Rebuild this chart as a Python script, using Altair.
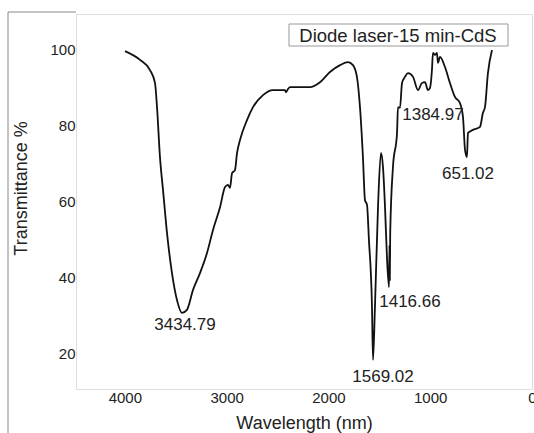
import altair as alt
import pandas as pd

# ---- data ----
wavenumber = [3999, 3851, 3753, 3704, 3684, 3655, 3625, 3586, 3537, 3488, 3439, 3390,
              3331, 3262, 3193, 3134, 3065, 3016, 2987, 2967, 2947, 2918, 2898, 2869,
              2800, 2741, 2643, 2545, 2427, 2417, 2397, 2378, 2181, 2083, 1985, 1886,
              1808, 1759, 1720, 1690, 1661, 1641, 1621, 1602, 1572, 1562, 1543, 1513,
              1484, 1464, 1444, 1425, 1405, 1400, 1397, 1393, 1366, 1326, 1317, 1297,
              1277, 1248, 1218, 1169, 1120, 1081, 1051, 1022, 1002, 983, 973, 953,
              934, 924, 904, 855, 806, 757, 708, 678, 658, 639, 629, 580,
              511, 482, 462, 433, 393]
transmittance = [99.7, 97.4, 94.7, 91.3, 84.9, 71.7, 63.0, 51.7, 41.1, 34.0, 30.6, 31.4,
                 36.6, 41.1, 46.4, 52.5, 58.5, 63.8, 64.4, 63.6, 67.5, 68.3, 72.8, 76.2,
                 81.5, 84.9, 88.1, 89.4, 89.4, 88.9, 89.7, 90.2, 90.2, 91.5, 94.2, 96.0,
                 96.8, 96.0, 92.9, 84.9, 71.7, 60.4, 59.1, 49.8, 32.1, 18.2, 32.1, 58.5,
                 72.8, 69.1, 58.5, 45.3, 37.4, 48.5, 39.3, 51.7, 69.1, 78.1, 84.9, 84.7,
                 91.3, 92.9, 93.9, 92.9, 89.4, 91.3, 91.5, 89.4, 90.0, 94.7, 99.2, 98.7,
                 99.2, 96.6, 98.2, 95.5, 91.3, 87.6, 86.0, 82.3, 73.6, 71.7, 78.1, 78.9,
                 79.7, 83.4, 84.9, 93.9, 100.0]

peak_labels = ["3434.79", "1569.02", "1416.66", "1384.97", "651.02"]
label_x = [3409, 1464, 1199, 973, 629]
label_y = [26.1, 12.3, 32.1, 81.5, 65.9]

legend_text = ["Diode laser-15 min-CdS"]
x_ticks = [4000, 3000, 2000, 1000, 0]
y_ticks = [20, 40, 60, 80, 100]

# ---- tables ----
spec_df = pd.DataFrame({"wn": wavenumber, "T": transmittance,
                        "i": list(range(len(wavenumber)))})
ann_df = pd.DataFrame({"label": peak_labels, "x": label_x, "y": label_y})
leg_df = pd.DataFrame({"t": legend_text})
one_df = pd.DataFrame({"a": [0]})

FONT = "Liberation Sans"
W, H = 456, 375

x_scale = alt.Scale(domain=[0, 4480], reverse=True, nice=False, zero=False)
y_scale = alt.Scale(domain=[10.5, 109.5], nice=False, zero=False)

x_axis = alt.Axis(values=x_ticks, format="d", title="Wavelength (nm)", grid=False,
                  domain=False, tickSize=0, labelPadding=1, labelFontSize=15,
                  labelFont=FONT, labelColor="#222", labelFlush=False,
                  labelOverlap=False, titleFont=FONT, titleFontSize=18,
                  titleFontWeight="normal", titleColor="#222", titleY=39,
                  titleBaseline="alphabetic")
y_axis = alt.Axis(values=y_ticks, format="d", title="Transmittance %", grid=False,
                  domain=False, tickSize=0, labelPadding=1, labelFontSize=15,
                  labelFont=FONT, labelColor="#222", labelOverlap=False,
                  titleFont=FONT, titleFontSize=18, titleFontWeight="normal",
                  titleColor="#222", titleX=-50, titleY=174, titleAngle=270,
                  titleBaseline="alphabetic")

line = alt.Chart(spec_df).mark_line(color="#111", strokeWidth=1.8,
                                    interpolate="monotone").encode(
    x=alt.X("wn:Q", scale=x_scale, axis=x_axis),
    y=alt.Y("T:Q", scale=y_scale, axis=y_axis),
    order="i:Q",
)

ann = alt.Chart(ann_df).mark_text(font=FONT, fontSize=17, color="#222",
                                  align="center", baseline="alphabetic").encode(
    x=alt.X("x:Q", scale=x_scale),
    y=alt.Y("y:Q", scale=y_scale),
    text="label:N",
)

leg_box = alt.Chart(one_df).mark_rect(fill="white", stroke="#999", strokeWidth=1).encode(
    x=alt.value(213), x2=alt.value(432), y=alt.value(10), y2=alt.value(32))
leg_txt = alt.Chart(leg_df).mark_text(font=FONT, fontSize=18.5, color="#222",
                                      align="center", baseline="alphabetic").encode(
    x=alt.value(322), y=alt.value(28), text="t:N")

border_v = alt.Chart(one_df).mark_rule(color="#888", strokeWidth=1).encode(
    x=alt.value(-68), y=alt.value(-2), y2=alt.value(419))
border_h = alt.Chart(one_df).mark_rule(color="#888", strokeWidth=1).encode(
    x=alt.value(-68), x2=alt.value(0), y=alt.value(-2))

chart = alt.layer(line, ann, leg_box, leg_txt, border_v, border_h).properties(
    width=W, height=H,
    autosize=alt.AutoSizeParams(type="none"),
    padding={"left": 76, "top": 14, "right": 2, "bottom": 44},
).configure_view(stroke="#444", strokeWidth=1.5).configure(background="white")

chart.save("out.html", embed_options={"renderer": "svg", "actions": False})
